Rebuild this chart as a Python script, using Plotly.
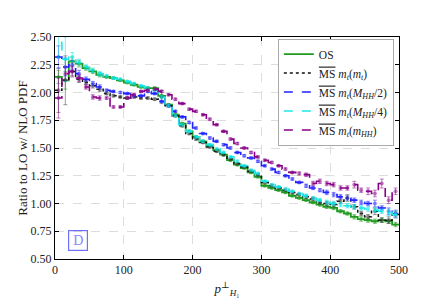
import plotly.graph_objects as go

bin_edges = list(range(0, 510, 10))
bin_centers = [e + 5 for e in bin_edges[:-1]]

os_vals = [2.14, 2.11, 2.28, 2.26, 2.22, 2.19, 2.16, 2.14, 2.13, 2.11,
           2.09, 2.07, 2.05, 2.04, 2.04, 1.97, 1.89, 1.80, 1.72, 1.65,
           1.60, 1.56, 1.52, 1.48, 1.44, 1.39, 1.35, 1.32, 1.28, 1.24,
           1.16, 1.14, 1.12, 1.10, 1.07, 1.05, 1.03, 1.01, 0.99, 0.97,
           0.96, 0.93, 0.91, 0.88, 0.86, 0.85, 0.84, 0.85, 0.84, 0.81]
mt_vals = [2.02, 2.11, 2.19, 2.12, 2.09, 2.06, 2.03, 1.99, 1.97, 1.96,
           1.95, 1.96, 1.95, 1.95, 1.94, 1.96, 1.88, 1.79, 1.70, 1.63,
           1.58, 1.55, 1.51, 1.47, 1.44, 1.40, 1.36, 1.33, 1.29, 1.26,
           1.19, 1.16, 1.14, 1.12, 1.10, 1.08, 1.06, 1.04, 1.01, 1.00,
           0.99, 1.02, 1.05, 0.97, 0.91, 0.88, 0.93, 0.85, 0.85, 0.90]
mhh2_vals = [2.32, 2.23, 2.25, 2.17, 2.12, 2.08, 2.05, 2.02, 2.01, 2.00,
             1.99, 1.97, 1.97, 2.01, 1.99, 1.92, 1.88, 1.83, 1.78, 1.73,
             1.68, 1.63, 1.59, 1.56, 1.53, 1.50, 1.46, 1.43, 1.41, 1.38,
             1.34, 1.31, 1.28, 1.25, 1.22, 1.19, 1.16, 1.14, 1.12, 1.10,
             1.08, 1.06, 1.05, 1.03, 1.01, 1.00, 1.00, 0.96, 0.93, 0.91]
mhh4_vals = [2.56, 2.30, 2.32, 2.27, 2.23, 2.20, 2.17, 2.15, 2.13, 2.12,
             2.10, 2.08, 2.06, 2.04, 2.02, 1.96, 1.88, 1.79, 1.71, 1.65,
             1.60, 1.56, 1.53, 1.49, 1.46, 1.42, 1.38, 1.34, 1.30, 1.27,
             1.20, 1.17, 1.15, 1.13, 1.11, 1.09, 1.07, 1.05, 1.03, 1.01,
             1.00, 0.99, 0.98, 0.97, 0.96, 0.95, 0.94, 0.93, 0.92, 0.90]
mhh_vals = [1.95, 2.17, 2.19, 2.13, 2.05, 1.96, 1.95, 1.95, 1.87, 1.87,
            1.95, 1.98, 2.01, 2.02, 2.03, 2.01, 1.98, 1.94, 1.90, 1.85,
            1.83, 1.80, 1.76, 1.71, 1.65, 1.58, 1.54, 1.50, 1.46, 1.42,
            1.39, 1.37, 1.34, 1.31, 1.28, 1.27, 1.26, 1.18, 1.20, 1.18,
            1.17, 1.14, 1.14, 1.17, 1.12, 1.11, 1.09, 1.18, 1.03, 1.11]

os_err = [0.06, 0.08, 0.04, 0.03, 0.02, 0.02, 0.02, 0.01, 0.01, 0.01,
          0.01, 0.01, 0.01, 0.01, 0.01, 0.01, 0.01, 0.01, 0.01, 0.01,
          0.01, 0.01, 0.01, 0.01, 0.01, 0.01, 0.01, 0.01, 0.01, 0.01,
          0.01, 0.01, 0.01, 0.01, 0.01, 0.01, 0.01, 0.01, 0.015, 0.015,
          0.015, 0.015, 0.015, 0.02, 0.02, 0.02, 0.02, 0.02, 0.02, 0.02]
mt_err = [0.20, 0.22, 0.05, 0.03, 0.02, 0.02, 0.02, 0.01, 0.01, 0.01,
          0.01, 0.01, 0.01, 0.01, 0.01, 0.06, 0.01, 0.01, 0.01, 0.01,
          0.01, 0.01, 0.01, 0.01, 0.01, 0.01, 0.01, 0.01, 0.01, 0.01,
          0.01, 0.01, 0.01, 0.01, 0.01, 0.01, 0.015, 0.015, 0.015, 0.02,
          0.02, 0.02, 0.03, 0.02, 0.02, 0.02, 0.03, 0.02, 0.03, 0.03]
mhh2_err = [0.10, 0.08, 0.04, 0.03, 0.02, 0.02, 0.02, 0.01, 0.01, 0.01,
            0.01, 0.01, 0.01, 0.01, 0.01, 0.01, 0.01, 0.01, 0.01, 0.01,
            0.01, 0.01, 0.01, 0.01, 0.01, 0.01, 0.01, 0.01, 0.01, 0.01,
            0.01, 0.01, 0.01, 0.01, 0.01, 0.01, 0.015, 0.015, 0.015, 0.02,
            0.02, 0.02, 0.02, 0.02, 0.02, 0.02, 0.03, 0.02, 0.03, 0.03]
mhh4_err = [0.25, 0.20, 0.04, 0.03, 0.02, 0.02, 0.02, 0.01, 0.01, 0.01,
            0.01, 0.01, 0.01, 0.01, 0.01, 0.01, 0.01, 0.01, 0.01, 0.01,
            0.01, 0.01, 0.01, 0.01, 0.01, 0.01, 0.01, 0.01, 0.01, 0.01,
            0.01, 0.01, 0.01, 0.01, 0.01, 0.01, 0.015, 0.015, 0.015, 0.02,
            0.02, 0.02, 0.02, 0.02, 0.02, 0.02, 0.02, 0.02, 0.03, 0.03]
mhh_err = [0.18, 0.06, 0.04, 0.03, 0.02, 0.02, 0.02, 0.01, 0.01, 0.01,
           0.01, 0.01, 0.01, 0.01, 0.01, 0.01, 0.01, 0.01, 0.01, 0.01,
           0.01, 0.01, 0.01, 0.01, 0.01, 0.01, 0.01, 0.01, 0.01, 0.01,
           0.01, 0.01, 0.01, 0.01, 0.01, 0.015, 0.015, 0.02, 0.02, 0.02,
           0.02, 0.02, 0.02, 0.03, 0.02, 0.03, 0.03, 0.04, 0.03, 0.03]

ms = '<span style="text-decoration:overline">MS</span>'
series = [
    ("OS", os_vals, os_err, "#1f9a1f", "rgba(31,154,31,0.5)", "solid", 1.8),
    (ms + " <i>m</i><sub><i>t</i></sub>(<i>m</i><sub><i>t</i></sub>)", mt_vals, mt_err,
     "#111111", "rgba(60,60,60,0.5)", "dot", 1.5),
    (ms + " <i>m</i><sub><i>t</i></sub>(<i>M</i><sub><i>HH</i></sub>/2)", mhh2_vals, mhh2_err,
     "#2222ff", "rgba(34,34,255,0.5)", "dash", 1.6),
    (ms + " <i>m</i><sub><i>t</i></sub>(<i>M</i><sub><i>HH</i></sub>/4)", mhh4_vals, mhh4_err,
     "#22e8e8", "rgba(0,230,230,0.5)", "dash", 1.6),
    (ms + " <i>m</i><sub><i>t</i></sub>(<i>m</i><sub><i>HH</i></sub>)", mhh_vals, mhh_err,
     "#880088", "rgba(136,0,136,0.5)", "dash", 1.6),
]

fig = go.Figure()
for name, vals, errs, col, ecol, dash, w in series:
    fig.add_trace(go.Scatter(
        x=bin_edges, y=list(vals) + [vals[-1]], mode="lines", line_shape="hv",
        line=dict(color=col, dash=dash, width=w), name=name, showlegend=True))
    fig.add_trace(go.Scatter(
        x=bin_centers, y=vals, mode="markers", showlegend=False,
        marker=dict(color=ecol, size=4),
        error_y=dict(type="data", array=errs, color=ecol, thickness=1, width=2)))

# "D" badge
fig.add_annotation(x=0.067, y=0.083, xref="paper", yref="paper", text="D",
                   xanchor="center", yanchor="middle",
                   showarrow=False, width=14, height=15,
                   bordercolor="#6f6fff", borderwidth=1.2, borderpad=2,
                   font=dict(color="#8888ff", size=14, family="Liberation Serif, serif"))

axis_common = dict(showline=True, linecolor="black", linewidth=1, mirror="ticks",
                   ticks="inside", ticklen=4, tickcolor="black",
                   showgrid=True, gridcolor="#dddddd", griddash="dash", gridwidth=1,
                   zeroline=False, tickfont=dict(size=12, color="#222"), automargin=False)
fig.update_xaxes(range=[0, 500], tickvals=[0, 100, 200, 300, 400, 500],
                 title=dict(text="<i>p</i><sup>\u22a5</sup><sub><i>H</i>\u2081</sub>",
                            font=dict(size=13), standoff=7), **axis_common)
fig.update_yaxes(range=[0.5, 2.5], tickvals=[0.5, 0.75, 1.0, 1.25, 1.5, 1.75, 2.0, 2.25, 2.5],
                 tickformat=".2f",
                 title=dict(text="Ratio to LO w/ NLO PDF", font=dict(size=13), standoff=0),
                 **axis_common)

fig.update_layout(
    width=444, height=305,
    margin=dict(l=47, r=53, t=29, b=54),
    plot_bgcolor="white", paper_bgcolor="white",
    font=dict(family="Liberation Serif, DejaVu Serif, serif", color="#222"),
    legend=dict(x=0.985, y=0.993, xanchor="right", yanchor="top",
                bgcolor="white", bordercolor="#aaaaaa", borderwidth=1,
                font=dict(size=11.5), tracegroupgap=0, itemwidth=30),
)

fig.write_html("out.html")
